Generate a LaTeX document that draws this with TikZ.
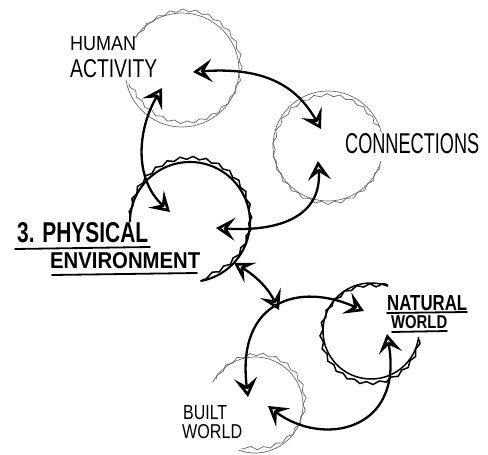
\documentclass[tikz,border=0pt]{standalone}
\usepackage{fontspec}
\setmainfont{Liberation Sans}
\usepackage{graphicx}
\usetikzlibrary{arrows.meta,decorations.pathmorphing}

% word squeezed into a given width and cap height (in pt)
\newcommand\fitword[3]{\resizebox{#1pt}{#2pt}{#3}}

\tikzset{
  ring/.style={draw=black!60, line width=0.7pt},
  heavyring/.style={draw=black, line width=2.1pt},
  midring/.style={draw=black, line width=1.5pt},
  wavy/.style={decorate, decoration={snake, segment length=13pt, amplitude=1.4pt}},
  link/.style={draw=black, line width=2.3pt,
    >={Stealth[open, length=19pt, width=23pt, inset=8pt, line width=2.7pt]}, <->},
  word/.style={inner sep=0pt, anchor=north west},
  rule/.style={draw=black, line width=1.8pt, line cap=round},
}

\begin{document}
\begin{tikzpicture}[x=1pt, y=-1pt]
\useasboundingbox (0,0) rectangle (488,455);

% ---- rings ----
% human activity
\draw[ring] (182,70) ++(214:57) arc[start angle=214, end angle=530, radius=57];
\draw[ring, wavy] (183,69) ++(214:56) arc[start angle=214, end angle=525, radius=56];
% connections
\draw[ring] (328,146) ++(16:55) arc[start angle=16, end angle=346, radius=55];
\draw[ring, wavy] (329,146) ++(20:54) arc[start angle=20, end angle=340, radius=54];
% physical environment
\draw[heavyring] (190,222) ++(180:60) arc[start angle=180, end angle=440, radius=60];
\draw[midring, wavy] (190,221) ++(185:60) arc[start angle=185, end angle=438, radius=60];
% natural world
\draw[midring] (371,331) ++(7:48) arc[start angle=7, end angle=291, radius=48];
\draw[midring, wavy] (371,331) ++(10:49) arc[start angle=10, end angle=290, radius=49];
% built world
\draw[ring] (255,405) ++(208:48) arc[start angle=208, end angle=470, radius=48];
\draw[ring, wavy] (256,404) ++(212:47) arc[start angle=212, end angle=468, radius=47];

% ---- arrow end points ----
\coordinate (ha-e) at (193,72);
\coordinate (ha-s) at (162,88);
\coordinate (cn-n) at (321,129);
\coordinate (cn-s) at (318,161);
\coordinate (pe-n) at (170,212);
\coordinate (pe-e) at (216,228);
\coordinate (pe-x) at (234,263);
\coordinate (lw-x) at (279,310);
\coordinate (nw-w) at (364,311);
\coordinate (nw-s) at (387,334);
\coordinate (bw-n) at (248,397);
\coordinate (bw-e) at (268,406);

% ---- links ----
\draw[link] (ha-e) .. controls (272,66) and (300,92) .. (cn-n);
\draw[link] (cn-s) .. controls (322,215) and (282,232) .. (pe-e);
\draw[link] (ha-s) .. controls (138,128) and (133,178) .. (pe-n);
\draw[link] (pe-x) .. controls (256,276) and (268,288) .. (lw-x);
\draw[link] (nw-w) .. controls (300,282) and (236,300) .. (bw-n);
\draw[link] (bw-e) .. controls (322,447) and (404,432) .. (nw-s);

% ---- labels ----
\node[word] (human) at (70,36) {\fitword{66}{14}{HUMAN}};
\node[word] (activity) at (70,59) {\fitword{87}{18}{ACTIVITY}};
\node[word] (connections) at (345,133) {\fitword{134}{20}{CONNECTIONS}};
\node[word] (physical) at (17,222) {\fitword{131}{20}{\bfseries 3. PHYSICAL}};
\node[word] (environment) at (50,252) {\fitword{150}{16}{\bfseries ENVIRONMENT}};
\node[word] (natural) at (387,295) {\fitword{80}{15}{\bfseries NATURAL}};
\node[word] (natworld) at (391,315) {\fitword{56}{13}{\bfseries WORLD}};
\node[word] (built) at (183,405) {\fitword{44}{14}{BUILT}};
\node[word] (bltworld) at (182,424) {\fitword{60}{14}{WORLD}};

% underlines
\draw[rule] (15,249) -- (150,247);
\draw[rule] (52,275) -- (197,273);
\draw[rule] (387,313) -- (467,312);
\draw[rule] (392,332) -- (447,331);
\end{tikzpicture}
\end{document}
